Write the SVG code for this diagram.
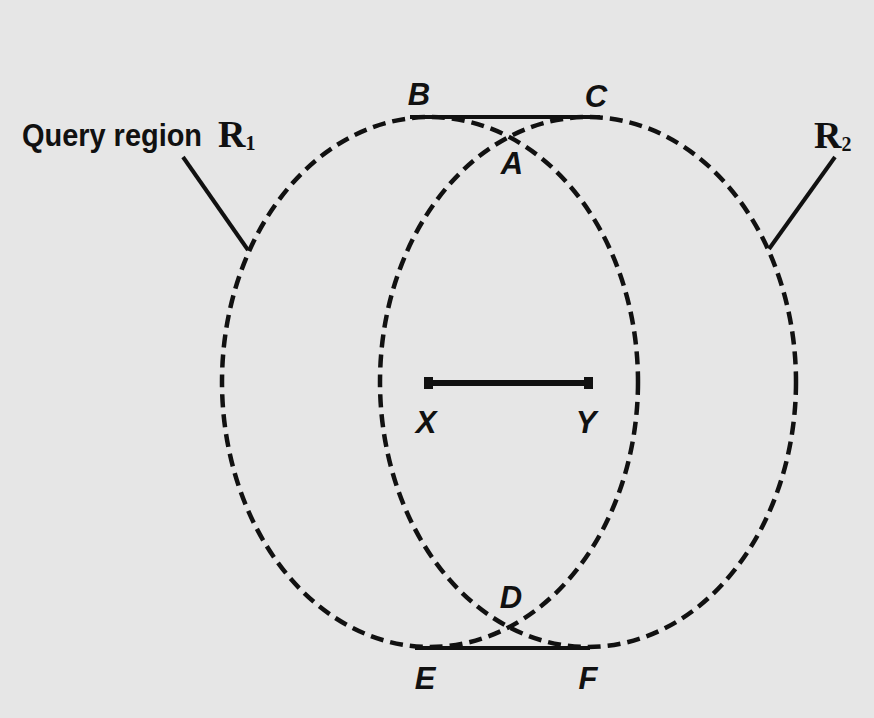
<svg xmlns="http://www.w3.org/2000/svg" width="874" height="718" viewBox="0 0 874 718">
<style>
.bg{fill:#e6e6e6}
.region{fill:none;stroke:#111;stroke-width:4.5;stroke-dasharray:13 7}
.solid{stroke:#111;stroke-width:4;fill:none}
.lbl{font-family:"Liberation Sans",Arial,sans-serif;font-weight:bold;font-style:italic;font-size:31px;fill:#111;text-anchor:middle}
.cap{font-family:"Liberation Sans",Arial,sans-serif;font-weight:bold;font-size:32px;fill:#111}
.rr{font-family:"Liberation Serif","Times New Roman",serif;font-weight:bold;font-size:38px;fill:#111}
.sub{font-size:20px}
</style>
<rect class="bg" x="0" y="0" width="874" height="718"/>
<g id="region-R1">
<ellipse class="region" cx="430" cy="382" rx="208" ry="265"/>
</g>
<g id="region-R2">
<ellipse class="region" cx="588" cy="382" rx="208" ry="265"/>
</g>
<g id="connectors">
<line class="solid" x1="410" y1="117" x2="600" y2="117"/>
<line class="solid" x1="415" y1="648" x2="590" y2="648"/>
<line class="solid" x1="183" y1="157" x2="248" y2="250"/>
<line class="solid" x1="835" y1="157" x2="769" y2="249"/>
<line x1="428" y1="383" x2="590" y2="383" stroke="#111" stroke-width="6"/>
<rect x="424" y="377" width="9" height="12" fill="#111"/>
<rect x="584" y="377" width="9" height="12" fill="#111"/>
</g>
<g id="label-R1">
<text class="cap" x="22" y="146" textLength="180" lengthAdjust="spacingAndGlyphs">Query region</text>
<text class="rr" x="218" y="147">R<tspan class="sub" dy="3">1</tspan></text>
</g>
<g id="label-R2">
<text class="rr" x="814" y="148">R<tspan class="sub" dy="3">2</tspan></text>
</g>
<g id="point-B"><text class="lbl" x="419" y="105">B</text></g>
<g id="point-C"><text class="lbl" x="596" y="107">C</text></g>
<g id="point-A"><text class="lbl" x="512" y="174">A</text></g>
<g id="point-X"><text class="lbl" x="426" y="433">X</text></g>
<g id="point-Y"><text class="lbl" x="586" y="433">Y</text></g>
<g id="point-D"><text class="lbl" x="511" y="608">D</text></g>
<g id="point-E"><text class="lbl" x="425" y="689">E</text></g>
<g id="point-F"><text class="lbl" x="588" y="689">F</text></g>
</svg>
